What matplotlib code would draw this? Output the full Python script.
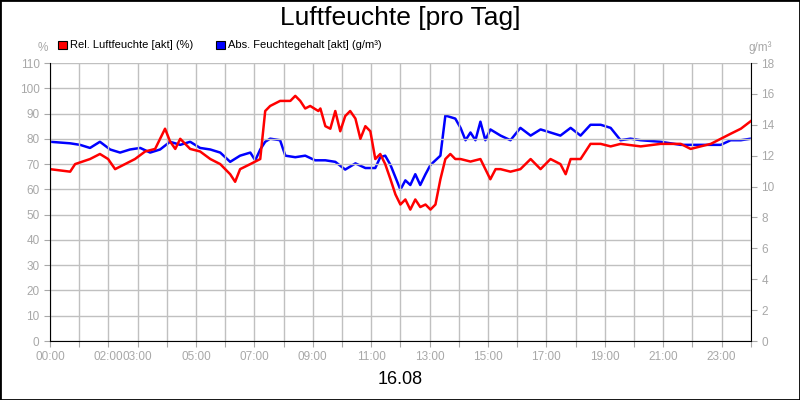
import matplotlib
matplotlib.use("Agg")
import matplotlib.pyplot as plt
from matplotlib.patches import Rectangle
plt.rcParams['font.family'] = ['Liberation Sans', 'DejaVu Sans']

rel_t = [0,0.69,0.86,1.37,1.71,1.99,2.23,2.57,2.91,3.26,3.6,3.77,3.94,4.11,4.29,4.46,4.8,5.14,5.49,5.83,6.17,6.34,6.51,6.86,7.03,7.2,7.37,7.54,7.88,8.23,8.4,8.57,8.74,8.91,9.19,9.26,9.43,9.6,9.77,9.94,10.11,10.28,10.46,10.63,10.8,10.97,11.14,11.31,11.48,11.66,11.83,12.0,12.17,12.34,12.51,12.68,12.86,13.03,13.2,13.37,13.54,13.71,13.88,14.06,14.4,14.74,14.91,15.08,15.26,15.43,15.77,16.11,16.46,16.8,16.97,17.14,17.48,17.66,17.83,18.17,18.51,18.86,19.2,19.54,20.23,20.91,21.6,21.94,22.28,22.63,22.97,23.31,23.66,24.0]
rel_v = [68,67,70,72,74,72,68,70,72,75,76,80,84,79,76,80,76,75,72,70,66,63,68,70,71,72,91,93,95,95,97,95,92,93,91,92,85,84,91,83,89,91,88,80,85,83,72,74,70,64,58,54,56,52,56,53,54,52,54,64,72,74,72,72,71,72,68,64,68,68,67,68,72,68,70,72,70,66,72,72,78,78,77,78,77,78,78,76,77,78,80,82,84,87]

abs_t = [0,0.69,1.03,1.37,1.71,2.06,2.4,2.74,3.09,3.43,3.77,4.11,4.46,4.8,5.14,5.49,5.83,6.17,6.51,6.86,7.03,7.2,7.37,7.54,7.88,8.06,8.4,8.74,9.08,9.43,9.77,10.11,10.46,10.8,11.14,11.31,11.48,11.66,11.83,12.0,12.17,12.34,12.51,12.68,12.86,13.03,13.37,13.54,13.88,14.06,14.23,14.4,14.57,14.74,14.91,15.08,15.43,15.77,16.11,16.46,16.8,17.14,17.48,17.83,18.17,18.51,18.86,19.2,19.54,19.88,20.23,20.91,21.6,22.28,22.97,23.31,23.66,24.0]
abs_v = [12.9,12.8,12.7,12.5,12.9,12.4,12.2,12.4,12.5,12.2,12.4,12.9,12.7,12.9,12.5,12.4,12.2,11.6,12.0,12.2,11.7,12.4,12.9,13.1,13.0,12.0,11.9,12.0,11.7,11.7,11.6,11.1,11.5,11.2,11.2,11.9,12.0,11.4,10.6,9.8,10.4,10.1,10.8,10.1,10.8,11.4,12.0,14.6,14.4,13.8,13.0,13.5,13.0,14.2,13.0,13.7,13.3,13.0,13.8,13.3,13.7,13.5,13.3,13.8,13.3,14.0,14.0,13.8,13.0,13.1,13.0,12.9,12.7,12.7,12.7,13.0,13.0,13.1]

xtick_pos = [0,2,3,5,7,9,11,13,15,17,19,21,23]
xtick_lab = ["00:00","02:00","03:00","05:00","07:00","09:00","11:00","13:00","15:00","17:00","19:00","21:00","23:00"]

fig = plt.figure(figsize=(8,4), dpi=100)
fig.patches.append(Rectangle((0,0),1,1,transform=fig.transFigure,fill=False,edgecolor='black',lw=2))
ax = fig.add_axes([0.0625,0.1475,0.876,0.695])
ax.plot(rel_t, rel_v, color='#ff0000', lw=1.8)
ax.set_xlim(0,24); ax.set_ylim(0,110)
ax.set_yticks(range(0,111,10))
ax.set_xticks(range(0,25))
ax.set_xticklabels([xtick_lab[xtick_pos.index(h)] if h in xtick_pos else "" for h in range(25)])
ax.grid(True, color='#c0c0c0', lw=1)
ax.set_axisbelow(True)
gray='#a8a8a8'
ax.tick_params(colors=gray, labelsize=8.5, length=4)
for s in ['top','right']: ax.spines[s].set_visible(False)
ax.spines['left'].set_color('black'); ax.spines['bottom'].set_color('black')
ax2 = ax.twinx()
ax2.plot(abs_t, abs_v, color='#0000ff', lw=1.8)
ax2.set_ylim(0,18); ax2.set_yticks(range(0,19,2))
ax2.tick_params(colors=gray, labelsize=8.5, length=4)
for s in ['top','left','bottom']: ax2.spines[s].set_visible(False)
ax2.spines['right'].set_color('black')
ax.set_zorder(ax2.get_zorder()+1); ax.patch.set_visible(False)

fig.text(0.5,0.955,"Luftfeuchte [pro Tag]",ha='center',va='center',fontsize=19)
fig.text(0.5,0.05,"16.08",ha='center',va='center',fontsize=13)
fig.text(0.053,0.88,"%",ha='center',va='center',fontsize=8.5,color=gray)
fig.text(0.95,0.88,"g/m³",ha='center',va='center',fontsize=8.5,color=gray)
fig.patches.append(Rectangle((0.073,0.877),0.011,0.02,transform=fig.transFigure,facecolor='#ff0000',edgecolor='black',lw=0.8))
fig.text(0.088,0.887,"Rel. Luftfeuchte [akt] (%)",va='center',fontsize=8)
fig.patches.append(Rectangle((0.27,0.877),0.011,0.02,transform=fig.transFigure,facecolor='#0000ff',edgecolor='black',lw=0.8))
fig.text(0.285,0.887,"Abs. Feuchtegehalt [akt] (g/m³)",va='center',fontsize=8)
fig.savefig("out.png")
